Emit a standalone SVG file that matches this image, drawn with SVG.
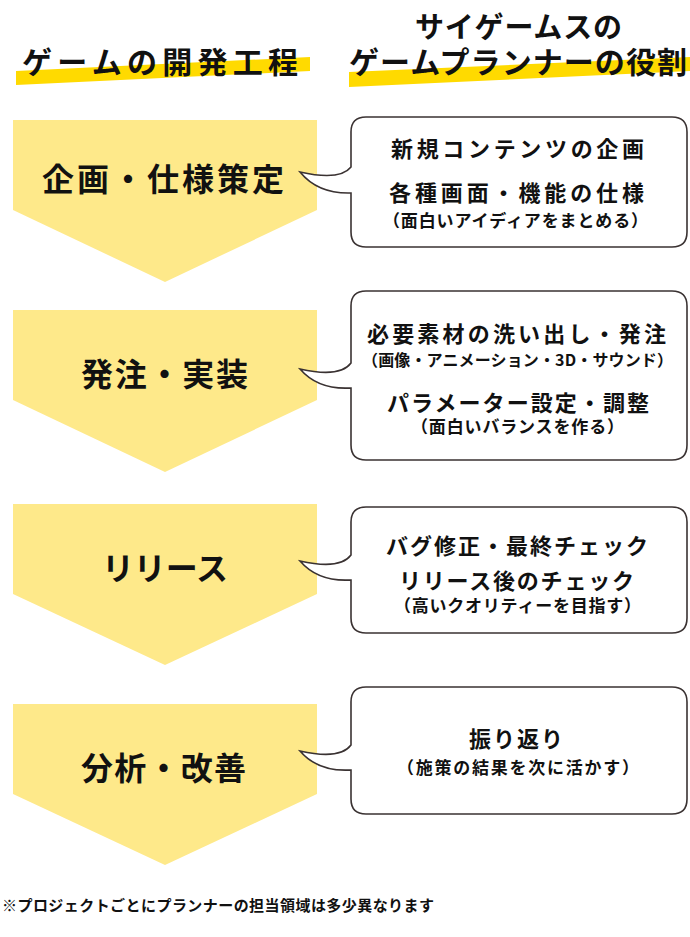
<svg xmlns="http://www.w3.org/2000/svg" width="690" height="937" viewBox="0 0 690 937">
<style>
text{font-family:"Noto Sans CJK JP","Noto Sans",sans-serif;font-weight:700;fill:#111;}
.hd{font-size:30px;}
.step{fill:#FEE98A;}
.stepT{font-size:32px;}
.bub{fill:#fff;stroke:#3a3232;stroke-width:1.6;}
.bt{font-size:22px;}
.st{font-size:17px;}
.stripe{fill:#FFDA00;}
</style>
<rect width="690" height="937" fill="#fff"/>
<g id="header-left">
<polygon class="stripe" points="16,71 310,57 310,71 16,85"/>
<text class="hd" x="22" y="73" textLength="276" lengthAdjust="spacing">ゲームの開発工程</text>
</g>
<g id="header-right">
<polygon class="stripe" points="349,72 690,57 690,71 349,87"/>
<text class="hd" x="415" y="38" textLength="207" lengthAdjust="spacing" style="font-size:29px">サイゲームスの</text>
<text class="hd" x="349" y="73" textLength="338" lengthAdjust="spacing">ゲームプランナーの役割</text>
</g>
<g id="step1">
<polygon class="step" points="13,120 317,120 317,210 165,282 13,210"/>
<text class="stepT" x="42" y="191" textLength="242" lengthAdjust="spacing">企画・仕様策定</text>
</g>
<g id="step2">
<polygon class="step" points="13,310 317,310 317,400 165,472 13,400"/>
<text class="stepT" x="81" y="386" textLength="167" lengthAdjust="spacing">発注・実装</text>
</g>
<g id="step3">
<polygon class="step" points="13,504 317,504 317,594 165,665 13,594"/>
<text class="stepT" x="102" y="580" textLength="126" lengthAdjust="spacing">リリース</text>
</g>
<g id="step4">
<polygon class="step" points="13,704 317,704 317,794 165,865 13,794"/>
<text class="stepT" x="81" y="780" textLength="165" lengthAdjust="spacing">分析・改善</text>
</g>
<g id="bubble1">
<path class="bub" d="M351,193 L351,232 Q351,247 366,247 L672,247 Q687,247 687,232 L687,132 Q687,117 672,117 L366,117 Q351,117 351,132 L351,167 Q340,181 300,172 Q318,194 351,193 Z"/>
<text class="bt" x="391" y="156.5" textLength="253" lengthAdjust="spacing">新規コンテンツの企画</text>
<text class="bt" x="389" y="200.5" textLength="255" lengthAdjust="spacing">各種画面・機能の仕様</text>
<text class="st" x="383" y="227" textLength="265" lengthAdjust="spacing">（面白いアイディアをまとめる）</text>
</g>
<g id="bubble2">
<path class="bub" d="M351,388 L351,445 Q351,460 366,460 L672,460 Q687,460 687,445 L687,306 Q687,291 672,291 L366,291 Q351,291 351,306 L351,363 Q340,378 300,369 Q318,390 351,388 Z"/>
<text class="bt" x="367" y="341.5" textLength="299" lengthAdjust="spacing">必要素材の洗い出し・発注</text>
<text class="st" x="362" y="366" textLength="311" lengthAdjust="spacing" style="font-size:16px">（画像・アニメーション・3D・サウンド）</text>
<text class="bt" x="387" y="411" textLength="262" lengthAdjust="spacing">パラメーター設定・調整</text>
<text class="st" x="411" y="433" textLength="213" lengthAdjust="spacing">（面白いバランスを作る）</text>
</g>
<g id="bubble3">
<path class="bub" d="M351,580 L351,618 Q351,633 366,633 L672,633 Q687,633 687,618 L687,522 Q687,507 672,507 L366,507 Q351,507 351,522 L351,555 Q340,570 300,561 Q318,582 351,580 Z"/>
<text class="bt" x="386" y="553.5" textLength="262" lengthAdjust="spacing">バグ修正・最終チェック</text>
<text class="bt" x="399" y="588.5" textLength="235" lengthAdjust="spacing">リリース後のチェック</text>
<text class="st" x="394" y="612" textLength="247" lengthAdjust="spacing">（高いクオリティーを目指す）</text>
</g>
<g id="bubble4">
<path class="bub" d="M351,770 L351,799 Q351,814 366,814 L672,814 Q687,814 687,799 L687,702 Q687,687 672,687 L366,687 Q351,687 351,702 L351,745 Q340,760 300,751 Q318,772 351,770 Z"/>
<text class="bt" x="469" y="746.5" textLength="94" lengthAdjust="spacing">振り返り</text>
<text class="st" x="397" y="774" textLength="242" lengthAdjust="spacing">（施策の結果を次に活かす）</text>
</g>
<g id="footnote">
<text x="2" y="911" textLength="432" lengthAdjust="spacing" style="font-size:15px">※プロジェクトごとにプランナーの担当領域は多少異なります</text>
</g>
</svg>
